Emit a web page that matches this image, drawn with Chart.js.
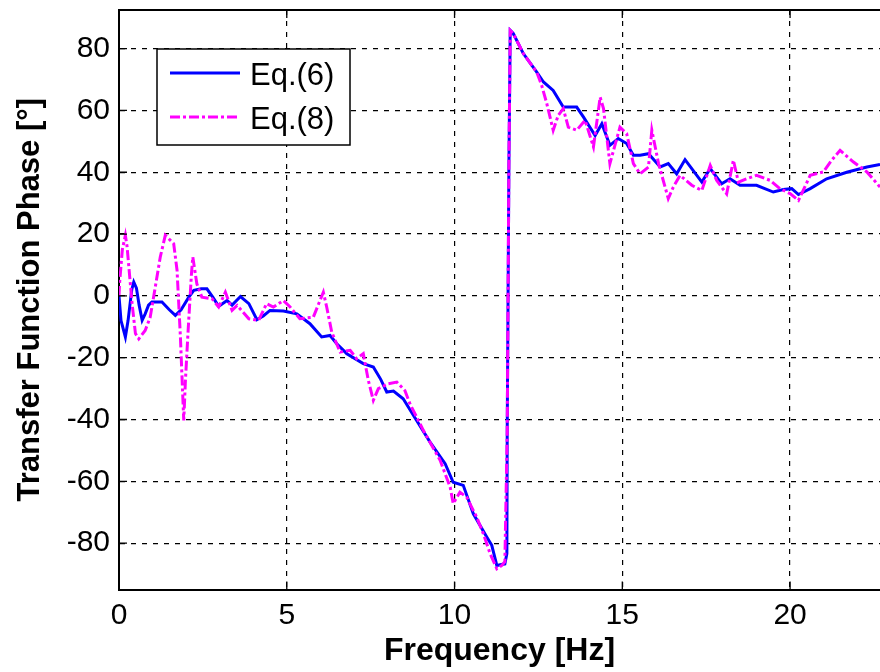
<!DOCTYPE html>
<html>
<head>
<meta charset="utf-8">
<title>Transfer Function Phase</title>
<script src="https://cdn.jsdelivr.net/npm/chart.js@4.4.0/dist/chart.umd.min.js"></script>
<style>
  html, body { margin: 0; padding: 0; background: #fff; }
</style>
</head>
<body>
<canvas id="phase-chart" width="880" height="672"></canvas>
<script>
// Eq.(6) - blue solid curve
const freq6 = [0, 0.06, 0.19, 0.27, 0.38, 0.44, 0.52, 0.6, 0.69, 0.78, 0.88, 0.98, 1.28, 1.5, 1.68, 1.85,
    2.08, 2.23, 2.45, 2.62, 2.8, 2.97, 3.22, 3.37, 3.62, 3.87, 4.11, 4.3, 4.5, 4.9, 5.3, 5.69, 6.04,
    6.29, 6.49, 6.79, 7.28, 7.58, 7.8, 7.98, 8.18, 8.47, 8.87, 9.27, 9.72, 9.96, 10.26, 10.56, 10.96,
    11.11, 11.26, 11.5, 11.56, 11.57, 11.62, 11.66, 11.75, 12.05, 12.45, 12.65, 12.94, 13.24, 13.64,
    13.84, 14.19, 14.39, 14.63, 14.88, 15.13, 15.33, 15.53, 15.78, 16.13, 16.37, 16.62, 16.87, 17.37,
    17.62, 17.96, 18.21, 18.51, 19.0, 19.5, 19.8, 20.05, 20.25, 20.6, 21.09, 21.69, 22.29, 22.68];
const phase6 = [0, -8, -13.3, -8, 2, 4.5, 2.5, -3, -7.9, -5.8, -3, -2, -2, -4.5, -6.3, -4.5,
    -0.4, 1.8, 2.3, 2.3, -0.5, -3.4, -1.5, -3, -0.2, -2.5, -7.7, -6.5, -4.7, -4.9, -5.8, -9, -13.3,
    -12.8, -15.5, -18.7, -21.9, -23, -27, -31.1, -30.8, -33.3, -40.3, -47.3, -54.3, -60.3, -61.3, -70.5, -78,
    -80.7, -87.2, -86.7, -83.4, -44, 42, 85.9, 84.9, 78.4, 72.4, 69.2, 66.5, 61.1, 61.1,
    57.9, 51.9, 55.7, 48.7, 50.9, 49.3, 45.5, 45.5, 46, 41.7, 42.8, 39.5, 44.1, 36.8,
    41.2, 36.3, 37.9, 35.8, 35.8, 33.6, 34.4, 34.7, 32.8, 34.7, 37.9, 40, 41.7, 42.5];

// Eq.(8) - magenta dash-dot curve
const freq8 = [0, 0.02, 0.1, 0.19, 0.24, 0.39, 0.49, 0.59, 0.78, 0.93, 1.08, 1.23, 1.38, 1.63, 1.73,
    1.83, 1.93, 1.98, 2.06, 2.16, 2.2, 2.32, 2.47, 2.77, 2.97, 3.17, 3.37, 3.52, 3.87, 4.16, 4.4, 4.6,
    4.9, 5.1, 5.39, 5.79, 6.09, 6.19, 6.34, 6.59, 6.89, 7.08, 7.28, 7.43, 7.58, 7.73, 8.03, 8.28, 8.52,
    8.67, 9.07, 9.57, 9.87, 9.96, 10.16, 10.36, 10.66, 10.86, 11.06, 11.26, 11.41, 11.5, 11.57, 11.62,
    11.66, 11.75, 12.05, 12.45, 12.6, 12.75, 12.94, 13.09, 13.24, 13.39, 13.64, 13.89, 14.14, 14.34,
    14.44, 14.63, 14.93, 15.13, 15.33, 15.53, 15.78, 15.88, 16.08, 16.37, 16.52, 16.72, 17.07, 17.37,
    17.62, 17.81, 18.11, 18.31, 18.46, 18.71, 19.0, 19.4, 19.7, 20.0, 20.25, 20.6, 20.99, 21.24, 21.49,
    21.89, 22.29, 22.68];
const phase8 = [0, 4.5, 15, 19.6, 16, -2.5, -12.2, -13.9, -11.2, -6.9, 2.8, 12.6, 19.6, 16.9, 8.3,
    -13.3, -40.3, -27.3, -11.2, 7.2, 12.6, 3.9, -0.4, -0.9, -3.6, 1.2, -4.7, -3.1, -7.4, -7.9, -2.5, -3.6,
    -1.5, -3.6, -7.4, -6.9, 1.2, -3.6, -11.7, -18.2, -17.6, -20.3, -18.7, -27.3, -33.8, -30, -28.4, -27.9, -30.6,
    -34.9, -43.5, -53.2, -61.9, -67.2, -63.5, -65.1, -71.6, -77, -83.4, -88.3, -87.2, -86, -44, 42,
    85.9, 84.9, 78.4, 72.4, 68, 62.2, 53.6, 58.4, 60.6, 54.6, 53.6, 56.8, 48.2, 64.3,
    60.6, 42.8, 54.6, 52.5, 42.8, 39.5, 41.7, 53.6, 42.8, 31.5, 35.2, 39, 35.8, 34.1,
    42.2, 37.4, 33, 43.9, 36.8, 37.9, 39, 37.4, 34.7, 33.1, 30.9, 39, 40.1, 43.9, 47.1,
    43.3, 40.1, 35.2];

const xTicks = [0, 5, 10, 15, 20];
const yTicks = [-80, -60, -40, -20, 0, 20, 40, 60, 80];

const FONT = '"Liberation Sans", Arial, Helvetica, sans-serif';

// legend box + top border + inner tick marks (matlab style)
const axesBox = {
    id: 'axesBox',
    afterDraw(chart) {
        const {ctx, chartArea} = chart;
        const xs = chart.scales.x, ys = chart.scales.y;
        ctx.save();
        ctx.strokeStyle = '#000';
        ctx.lineWidth = 2;
        ctx.beginPath();
        ctx.moveTo(chartArea.left, chartArea.top);
        ctx.lineTo(chartArea.right, chartArea.top);
        ctx.stroke();

        ctx.lineWidth = 1.3;
        ctx.beginPath();
        xTicks.forEach(v => {
            const px = xs.getPixelForValue(v);
            ctx.moveTo(px, chartArea.bottom);
            ctx.lineTo(px, chartArea.bottom - 8);
            ctx.moveTo(px, chartArea.top);
            ctx.lineTo(px, chartArea.top + 8);
        });
        yTicks.forEach(v => {
            const py = ys.getPixelForValue(v);
            ctx.moveTo(chartArea.left, py);
            ctx.lineTo(chartArea.left + 8, py);
        });
        ctx.stroke();

        // legend
        const lx = chartArea.left + 38, ly = chartArea.top + 39, lw = 193, lh = 96;
        ctx.fillStyle = '#fff';
        ctx.fillRect(lx, ly, lw, lh);
        ctx.lineWidth = 1.5;
        ctx.strokeRect(lx, ly, lw, lh);
        chart.data.datasets.forEach((ds, i) => {
            const rowY = ly + 24 + i * 44;
            ctx.strokeStyle = ds.borderColor;
            ctx.lineWidth = ds.borderWidth;
            ctx.setLineDash(ds.borderDash || []);
            ctx.beginPath();
            ctx.moveTo(lx + 13, rowY);
            ctx.lineTo(lx + 83, rowY);
            ctx.stroke();
            ctx.setLineDash([]);
            ctx.fillStyle = '#000';
            ctx.font = '31px ' + FONT;
            ctx.textBaseline = 'alphabetic';
            ctx.fillText(ds.label, lx + 93, rowY + 12);
        });
        ctx.restore();
    }
};

const ctx = document.getElementById('phase-chart').getContext('2d');
new Chart(ctx, {
    type: 'line',
    data: {
        datasets: [{
            label: 'Eq.(6)',
            data: freq6.map((f, i) => ({x: f, y: phase6[i]})),
            borderColor: '#0000ff',
            borderWidth: 3,
            pointRadius: 0,
            tension: 0,
            order: 2
        }, {
            label: 'Eq.(8)',
            data: freq8.map((f, i) => ({x: f, y: phase8[i]})),
            borderColor: '#ff00ff',
            borderWidth: 3,
            borderDash: [10, 3, 3, 3],
            pointRadius: 0,
            tension: 0,
            order: 1
        }]
    },
    options: {
        responsive: false,
        animation: false,
        devicePixelRatio: 1,
        layout: {padding: {top: 10, right: 0, left: 0, bottom: 0}},
        plugins: {
            legend: {display: false},
            tooltip: {enabled: false}
        },
        scales: {
            x: {
                type: 'linear',
                min: 0,
                max: 22.68,
                afterBuildTicks: s => { s.ticks = xTicks.map(v => ({value: v})); },
                afterFit: s => { s.height = 82.5; s.paddingLeft = 0; s.paddingRight = 0; },
                ticks: {color: '#000', font: {family: FONT, size: 30}, padding: 8, maxRotation: 0},
                grid: {color: '#000', lineWidth: 1.2, drawTicks: false},
                border: {color: '#000', width: 2, dash: [5, 6]},
                title: {
                    display: true,
                    text: 'Frequency [Hz]',
                    color: '#000',
                    font: {family: FONT, size: 32, weight: 'bold'},
                    padding: {top: 0, bottom: 2}
                }
            },
            y: {
                min: -95,
                max: 92.5,
                afterBuildTicks: s => { s.ticks = yTicks.map(v => ({value: v})); },
                afterFit: s => { s.width = 119; s.paddingTop = 0; s.paddingBottom = 0; },
                ticks: {color: '#000', font: {family: FONT, size: 30}, padding: 9},
                grid: {color: '#000', lineWidth: 1.2, drawTicks: false},
                border: {color: '#000', width: 2, dash: [5, 6]},
                title: {
                    display: true,
                    text: 'Transfer Function Phase [°]',
                    color: '#000',
                    font: {family: FONT, size: 31, weight: 'bold'},
                    padding: {top: 12, bottom: 0}
                }
            }
        }
    },
    plugins: [axesBox]
});
</script>
</body>
</html>
